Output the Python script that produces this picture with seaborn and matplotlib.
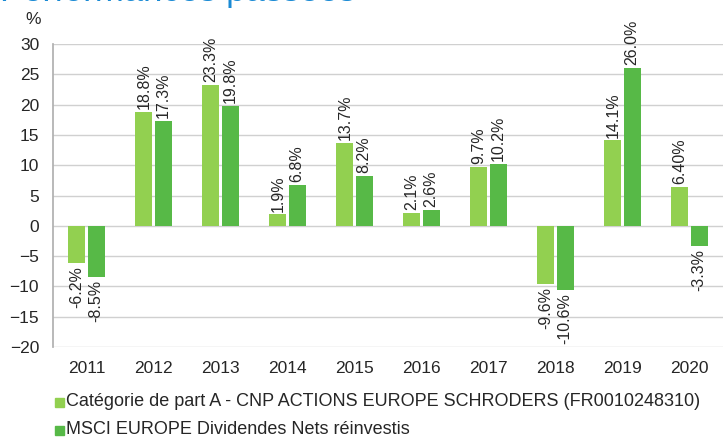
import matplotlib
matplotlib.use("Agg")
import matplotlib.pyplot as plt
import seaborn as sns
import pandas as pd

years = ["2011", "2012", "2013", "2014", "2015", "2016", "2017", "2018", "2019", "2020"]
fund = [-6.2, 18.8, 23.3, 1.9, 13.7, 2.1, 9.7, -9.6, 14.1, 6.40]
index = [-8.5, 17.3, 19.8, 6.8, 8.2, 2.6, 10.2, -10.6, 26.0, -3.3]
fund_labels = ["-6.2%", "18.8%", "23.3%", "1.9%", "13.7%", "2.1%", "9.7%", "-9.6%", "14.1%", "6.40%"]
index_labels = ["-8.5%", "17.3%", "19.8%", "6.8%", "8.2%", "2.6%", "10.2%", "-10.6%", "26.0%", "-3.3%"]
series = ["Catégorie de part A - CNP ACTIONS EUROPE SCHRODERS (FR0010248310)",
          "MSCI EUROPE Dividendes Nets réinvestis"]
colors = ["#92d050", "#57b947"]
yticks = [30, 25, 20, 15, 10, 5, 0, -5, -10, -15, -20]

df = pd.DataFrame({
    "year": years * 2,
    "value": fund + index,
    "series": [series[0]] * len(years) + [series[1]] * len(years),
})

sns.set_theme(style="white")
plt.rcParams["font.family"] = ["Liberation Sans", "DejaVu Sans"]

fig = plt.figure(figsize=(7.23, 4.37), dpi=100)
ax = fig.add_axes([53 / 723, 1 - 347 / 437, (723 - 53) / 723, 303 / 437])

sns.barplot(data=df, x="year", y="value", hue="series", palette=colors,
            width=0.58, gap=0.12, ax=ax, legend=False, linewidth=0, saturation=1)

for cont, labels in zip(ax.containers, [fund_labels, index_labels]):
    for bar, lab in zip(cont, labels):
        h = bar.get_height()
        x = bar.get_x() + bar.get_width() / 2
        if h >= 0:
            ax.annotate(lab, (x, h), xytext=(0, 2), textcoords="offset points",
                        rotation=90, ha="center", va="bottom", fontsize=11.5, color="#262626")
        else:
            ax.annotate(lab, (x, h), xytext=(0, -2), textcoords="offset points",
                        rotation=90, ha="center", va="top", fontsize=11.5, color="#262626")

ax.set_ylim(-20, 30)
ax.set_yticks(yticks)
ax.set_xlim(-0.5, 9.5)
ax.yaxis.grid(True, color="#d0d0d0", linewidth=1)
ax.set_axisbelow(True)
ax.set_xlabel("")
ax.set_ylabel("")
for s in ["top", "right", "bottom"]:
    ax.spines[s].set_visible(False)
ax.spines["left"].set_color("#b0b0b0")
ax.tick_params(axis="both", labelsize=12.5, colors="#262626", length=0)
ax.tick_params(axis="y", pad=10)
ax.tick_params(axis="x", pad=10)

fig.text(33 / 723, 1 - 20 / 437, "%", fontsize=12.5, color="#262626", ha="center", va="center")
fig.text(0 / 723, 1 + 8 / 437, "Performances passées", fontsize=25, color="#1a8ad4",
         ha="left", va="center")

# legend
for i, (name, c) in enumerate(zip(series, colors)):
    yc = 1 - (402 + i * 28) / 437
    fig.patches.append(plt.Rectangle((55 / 723, yc - 4.5 / 437), 9 / 723, 9 / 437,
                                     transform=fig.transFigure, color=c, figure=fig))
    fig.text(66 / 723, yc, name, fontsize=13, color="#262626", ha="left", va="center")

fig.savefig("out.png", dpi=100)
